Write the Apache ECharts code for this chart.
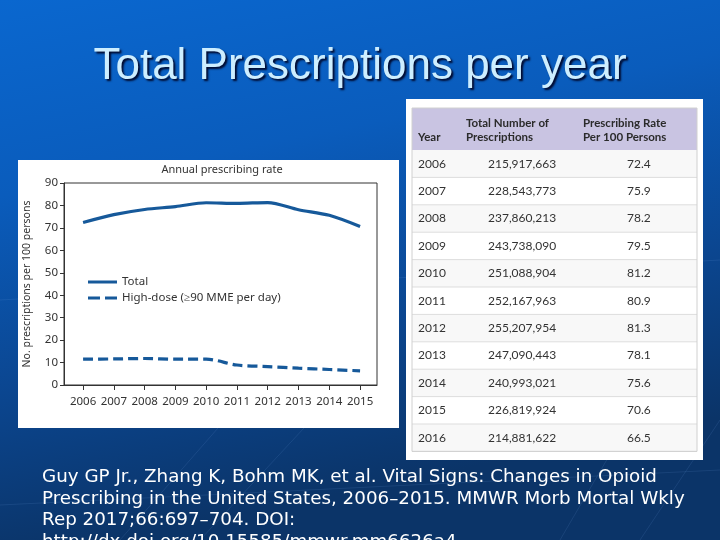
<!DOCTYPE html>
<html>
<head>
<meta charset="utf-8">
<script src="https://cdn.jsdelivr.net/npm/echarts@6/dist/echarts.min.js"></script>
<style>html,body{margin:0;padding:0;}#c{width:720px;height:540px;}</style>
</head>
<body>
<div id="c"></div>
<script>
const years = [2006, 2007, 2008, 2009, 2010, 2011, 2012, 2013, 2014, 2015];
const totalRate = [72.4, 75.9, 78.2, 79.5, 81.2, 80.9, 81.3, 78.1, 75.6, 70.6];
const highDoseRate = [11.5, 11.6, 11.8, 11.5, 11.5, 8.9, 8.2, 7.5, 6.9, 6.3];
const yTicks = [0, 10, 20, 30, 40, 50, 60, 70, 80, 90];

const tableYears = ['2006','2007','2008','2009','2010','2011','2012','2013','2014','2015','2016'];
const tableTotals = ['215,917,663','228,543,773','237,860,213','243,738,090','251,088,904','252,167,963','255,207,954','247,090,443','240,993,021','226,819,924','214,881,622'];
const tableRates = ['72.4','75.9','78.2','79.5','81.2','80.9','81.3','78.1','75.6','70.6','66.5'];
const tableHeaders = ['Year', 'Total Number of\nPrescriptions', 'Prescribing Rate\nPer 100 Persons'];

const slideTitle = 'Total Prescriptions per year';
const chartTitle = 'Annual prescribing rate';
const yName = 'No. prescriptions per 100 persons';
const seriesNames = ['Total', 'High-dose (\u226590 MME per day)'];
const citation = 'Guy GP Jr., Zhang K, Bohm MK, et al. Vital Signs: Changes in Opioid\nPrescribing in the United States, 2006\u20132015. MMWR Morb Mortal Wkly\nRep 2017;66:697\u2013704. DOI:\nhttp://dx.doi.org/10.15585/mmwr.mm6626a4';

const lineColor = '#16599a';
const chart = echarts.init(document.getElementById('c'), null, {renderer: 'canvas'});

// table graphics
const tX = 412, tW = 285, hdrTop = 108, hdrH = 42, rowH = 27.4;
const colX = [418, 466, 583];
const valX = [418, 488, 627];
const g = [];
g.push({type: 'rect', shape: {x: 18, y: 160, width: 381, height: 268}, style: {fill: '#ffffff'}, z: -10});
g.push({type: 'rect', shape: {x: 406, y: 99, width: 297, height: 361}, style: {fill: '#ffffff'}, z: -10});
g.push({type: 'rect', shape: {x: tX, y: hdrTop, width: tW, height: hdrH}, style: {fill: '#c9c4e2'}, z: -9});
tableHeaders.forEach((h, i) => {
  g.push({type: 'text', x: colX[i], y: hdrTop + hdrH - 6, style: {text: h, fill: '#2b2b2b', font: 'bold 11.5px Lato', textVerticalAlign: 'bottom', lineHeight: 14}, z: 5});
});
tableYears.forEach((yr, i) => {
  const y0 = hdrTop + hdrH + i * rowH;
  g.push({type: 'rect', shape: {x: tX, y: y0, width: tW, height: rowH}, style: {fill: i % 2 === 0 ? '#f8f8f8' : '#ffffff'}, z: -9});
  g.push({type: 'line', shape: {x1: tX, y1: y0 + rowH, x2: tX + tW, y2: y0 + rowH}, style: {stroke: '#dddddd', lineWidth: 1}, z: -8});
  const cells = [yr, tableTotals[i], tableRates[i]];
  cells.forEach((t, j) => {
    g.push({type: 'text', x: valX[j], y: y0 + rowH / 2, style: {text: t, fill: '#333333', font: '12px Lato', textVerticalAlign: 'middle'}, z: 5});
  });
});
g.push({type: 'rect', shape: {x: tX, y: hdrTop, width: tW, height: hdrH + rowH * tableYears.length}, style: {fill: 'none', stroke: '#d0d0d0', lineWidth: 1}, z: -7});

// faint template lines in the background
const bgLines = [[120, 540, 260, 380], [200, 540, 330, 400], [560, 540, 700, 300], [640, 540, 720, 420], [0, 505, 720, 470], [0, 300, 720, 260]];
bgLines.forEach(l => {
  g.push({type: 'line', shape: {x1: l[0], y1: l[1], x2: l[2], y2: l[3]}, style: {stroke: 'rgba(120,170,230,0.13)', lineWidth: 1}, z: -20});
});

// titles and citation
g.push({type: 'text', x: 360, y: 67, style: {text: slideTitle, fill: '#cdeeff', font: '44px "Liberation Sans"', textAlign: 'center', textVerticalAlign: 'middle', textShadowColor: 'rgba(0,0,30,0.9)', textShadowOffsetX: 2, textShadowOffsetY: 2, textShadowBlur: 2}, z: 10});
g.push({type: 'text', x: 222, y: 170, style: {text: chartTitle, fill: '#333333', font: '11px "Noto Sans"', textAlign: 'center', textVerticalAlign: 'middle'}, z: 10});
g.push({type: 'text', x: 42, y: 467, style: {text: citation, fill: '#ffffff', font: '18.3px "DejaVu Sans"', lineHeight: 21.5}, z: 10});

const option = {
  backgroundColor: {
    type: 'linear', x: 0, y: 0, x2: 0.15, y2: 1,
    colorStops: [
      {offset: 0, color: '#0a67cf'},
      {offset: 0.35, color: '#0a5cbc'},
      {offset: 0.7, color: '#0b4690'},
      {offset: 1, color: '#0b3468'}
    ]
  },
  animation: false,
  graphic: g,
  legend: {
    orient: 'vertical', left: 83, top: 271, itemWidth: 29, itemHeight: 3, itemGap: 4,
    textStyle: {fontFamily: 'Noto Sans', fontSize: 11.5, color: '#333333'},
    data: [
      {name: seriesNames[0], icon: 'path://M0,0H29V3H0Z'},
      {name: seriesNames[1], icon: 'path://M0,0H12V3H0Z M17,0H29V3H17Z'}
    ]
  },
  grid: {left: 64, right: 343, top: 183, bottom: 155, show: true, borderColor: '#333333', borderWidth: 1, backgroundColor: 'transparent'},
  xAxis: {
    type: 'value', min: 2005.38, max: 2015.55,
    splitLine: {show: false},
    axisLine: {lineStyle: {color: '#333333', width: 1}},
    axisTick: {show: true, length: 5, lineStyle: {color: '#333333'}, customValues: years},
    axisLabel: {customValues: years, color: '#333333', fontFamily: 'Noto Sans', fontSize: 11.5, margin: 11, formatter: v => String(v)}
  },
  yAxis: {
    type: 'value', min: 0, max: 90, interval: 10,
    name: yName, nameLocation: 'middle', nameGap: 31, nameRotate: 90,
    nameTextStyle: {fontFamily: 'Noto Sans', fontSize: 10.5, color: '#333333'},
    splitLine: {show: false},
    axisLine: {show: true, lineStyle: {color: '#333333', width: 1}},
    axisTick: {show: true, length: 4, lineStyle: {color: '#333333'}},
    axisLabel: {color: '#333333', fontFamily: 'Noto Sans', fontSize: 11.5, margin: 6, customValues: yTicks}
  },
  series: [
    {name: seriesNames[0], type: 'line', data: years.map((y, i) => [y, totalRate[i]]), symbol: 'none', smooth: 0.3, lineStyle: {color: lineColor, width: 3.2}, itemStyle: {color: lineColor}},
    {name: seriesNames[1], type: 'line', data: years.map((y, i) => [y, highDoseRate[i]]), symbol: 'none', smooth: 0.3, lineStyle: {color: lineColor, width: 3.2, type: [10, 5]}, itemStyle: {color: lineColor}}
  ]
};
chart.setOption(option);
</script>
</body>
</html>
